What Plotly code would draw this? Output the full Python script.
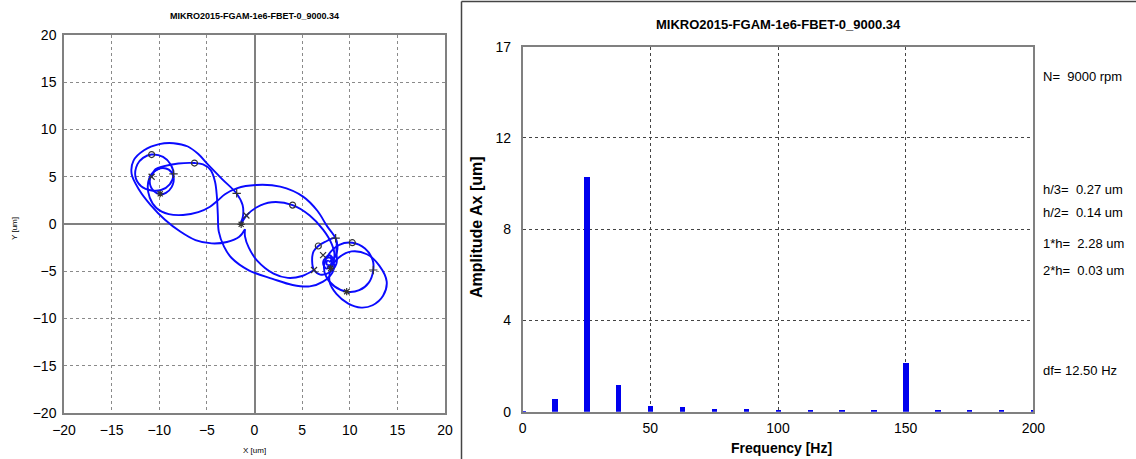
import plotly.graph_objects as go

W, H = 1136, 459

# ---------------- data ----------------
title_text = "MIKRO2015-FGAM-1e6-FBET-0_9000.34"

# orbit segments (x, y in um)
pass_outer = [(-1.0, -0.55), (-1.6, -1.35), (-2.9, -1.9), (-4.5, -2.05), (-6.2, -1.7), (-7.8, -0.8),
              (-9.4, 0.45), (-10.9, 2.0), (-12.1, 3.6), (-12.9, 5.3), (-12.7, 6.7), (-11.6, 7.8),
              (-10.0, 8.45), (-8.5, 8.55), (-7.0, 8.2), (-5.9, 7.4), (-4.9, 6.3), (-3.4, 4.75),
              (-1.9, 3.25), (-1.25, 2.0), (-1.2, 0.9), (-1.45, 0.0), (-0.85, 0.9), (0.2, 1.75),
              (1.8, 2.3), (4.0, 2.0), (5.8, 0.9), (7.2, -0.6), (8.1, -2.1), (8.4, -3.3), (8.1, -4.3),
              (7.6, -4.6)]
pass_e3_bottom = [(-10.8, 5.0), (-10.4, 5.8), (-9.6, 6.1), (-8.0, 6.4), (-6.3, 6.45), (-5.4, 6.3),
                  (-4.6, 5.7), (-4.15, 4.5), (-3.95, 2.9), (-3.85, 1.0), (-3.75, -0.8), (-3.2, -2.4),
                  (-2.4, -3.6), (-0.6, -4.9), (1.9, -5.8), (4.0, -6.45), (5.8, -6.6), (7.2, -6.1),
                  (8.2, -5.1), (8.4, -4.2)]
pass_e3_top = [(-9.9, 5.9), (-10.8, 5.3), (-11.2, 4.1), (-11.0, 2.8), (-10.3, 1.7), (-9.0, 1.05),
               (-7.5, 0.95), (-5.9, 1.25), (-4.67, 1.83), (-3.9, 2.45), (-3.1, 3.15), (-1.87, 3.78),
               (0.2, 4.13), (2.7, 3.95), (5.1, 2.9), (6.6, 1.4), (7.6, -0.2), (8.5, -1.5), (8.7, -2.7),
               (8.3, -3.7), (7.8, -4.0)]
pass_e4_bottom = [(6.25, -4.87), (5.0, -5.5), (3.5, -5.7), (2.0, -5.25), (0.3, -3.9), (-0.6, -2.5),
                  (-1.0, -1.3), (-1.0, -0.55)]
loop_c1 = [(-10.8, 7.35), (-9.6, 7.1), (-8.8, 6.3), (-8.5, 5.2), (-8.9, 4.2), (-9.8, 3.6),
           (-10.8, 3.55), (-11.9, 4.0), (-12.5, 5.0), (-12.3, 6.3), (-11.7, 7.0), (-10.8, 7.35)]
loop_c2 = [(-9.9, 5.9), (-9.0, 5.75), (-8.5, 5.0), (-8.7, 3.9), (-9.3, 3.3), (-9.9, 3.15),
           (-10.6, 3.5), (-11.0, 4.5), (-10.6, 5.5), (-9.9, 5.9)]
loop_r1 = [(10.2, -2.9), (11.8, -3.2), (13.1, -4.4), (13.88, -6.1), (13.5, -7.6), (12.4, -8.6),
           (11.2, -8.85), (9.8, -8.4), (8.6, -7.4), (7.9, -6.2), (8.0, -4.8), (8.8, -3.6), (10.2, -2.9)]
loop_r2 = [(10.27, -1.98), (11.6, -2.6), (12.4, -3.8), (12.47, -4.87), (12.0, -6.2), (11.0, -7.0),
           (9.68, -7.16), (8.4, -6.6), (7.5, -5.5), (7.3, -4.4), (7.8, -3.2), (8.9, -2.2), (10.27, -1.98)]
loop_r3 = [(8.5, -1.5), (7.4, -1.9), (6.7, -2.33), (6.2, -2.9), (6.05, -3.9), (6.25, -4.87),
           (6.9, -5.35), (7.9, -5.1), (8.6, -4.2), (8.6, -3.0), (8.5, -1.5)]
spiral = [(7.4, -3.6), (7.9, -3.3), (8.3, -3.8), (8.1, -4.5), (7.5, -4.7), (7.2, -4.1), (7.5, -3.6),
          (8.0, -3.6), (8.0, -4.3), (7.6, -4.3), (7.6, -3.9), (7.8, -3.9)]

# keyphasor-style markers
mark_o_x = [-10.8, -6.3, 4.0, 6.7, 10.27]
mark_o_y = [7.35, 6.45, 2.0, -2.33, -1.98]
mark_plus_x = [-8.5, -1.87, 8.52, 12.47]
mark_plus_y = [5.3, 3.25, -1.5, -4.87]
mark_x_x = [-10.8, -0.85, 7.2, 6.25]
mark_x_y = [5.0, 0.9, -3.3, -4.87]
mark_star_x = [-9.9, -1.4, 8.0, 9.68]
mark_star_y = [3.2, -0.03, -4.69, -7.16]

# spectrum
freqs = [0, 12.5, 25, 37.5, 50, 62.5, 75, 87.5, 100, 112.5, 125, 137.5, 150, 162.5, 175, 187.5, 200]
amps = [0.04, 0.59, 10.96, 1.26, 0.28, 0.22, 0.15, 0.13, 0.09, 0.08, 0.08, 0.08, 2.28, 0.06, 0.06, 0.06, 0.06]

orbit_ticks = [-20, -15, -10, -5, 0, 5, 10, 15, 20]
freq_ticks = [0, 50, 100, 150, 200]
amp_tickvals = [0, 4.25, 8.5, 12.75, 17]
amp_ticktext = ["0", "4", "8", "12", "17"]

info_texts = ["N=\u00a0 9000 rpm", "h/3=\u00a0 0.27 um", "h/2=\u00a0 0.14 um",
              "1*h=\u00a0 2.28 um", "2*h=\u00a0 0.03 um", "df= 12.50 Hz"]
info_ypix = [76, 189, 212, 243, 270, 370]

# ---------------- figure ----------------
FONT = "Liberation Sans, Arial, sans-serif"
BLUE = "#0a0aff"

def px(x):
    return x / W

def py(y):
    return 1 - y / H

segments = [pass_outer, pass_e3_bottom, pass_e3_top, pass_e4_bottom, loop_c1, loop_c2,
            loop_r1, loop_r2, loop_r3, spiral]
ox, oy = [], []
for seg in segments:
    ox += [p[0] for p in seg] + [None]
    oy += [p[1] for p in seg] + [None]

fig = go.Figure()
fig.add_trace(go.Scatter(x=ox, y=oy, mode="lines", line=dict(color=BLUE, width=1.9, shape="spline", smoothing=1.0),
                         connectgaps=False, xaxis="x", yaxis="y", hoverinfo="skip"))
for mx, my, sym in [(mark_o_x, mark_o_y, "circle-open"), (mark_plus_x, mark_plus_y, "cross-thin-open"),
                    (mark_x_x, mark_x_y, "x-thin-open"), (mark_star_x, mark_star_y, "asterisk-open")]:
    fig.add_trace(go.Scatter(x=mx, y=my, mode="markers",
                             marker=dict(symbol=sym, size=6, color="#333333", line=dict(width=1.2, color="#222222")),
                             xaxis="x", yaxis="y"))

fig.add_trace(go.Bar(x=freqs, y=amps, width=2.1, marker=dict(color="#0000ee", line=dict(width=0)),
                     xaxis="x2", yaxis="y2"))

grid_common = dict(showgrid=True, griddash="dot", gridwidth=1, showline=True, mirror=True,
                   linecolor="#808080", linewidth=1.5, ticks="outside", tickcolor="rgba(0,0,0,0)",
                   automargin=False, fixedrange=True)

fig.update_layout(
    template="none",
    width=W, height=H, margin=dict(l=0, r=0, t=0, b=0, pad=0, autoexpand=False),
    paper_bgcolor="white", plot_bgcolor="white", showlegend=False, bargap=0,
    xaxis=dict(domain=[px(64), px(445)], range=[-20, 20], tickvals=orbit_ticks, gridcolor="#8a8a8a",
               zeroline=True, zerolinecolor="#808080", zerolinewidth=1.5, ticklen=3, anchor="y",
               tickfont=dict(family=FONT, size=14, color="#000"), **grid_common),
    yaxis=dict(domain=[py(413), py(35)], range=[-20, 20], tickvals=orbit_ticks, gridcolor="#8a8a8a",
               zeroline=True, zerolinecolor="#808080", zerolinewidth=1.5, ticklen=3, anchor="x",
               tickfont=dict(family=FONT, size=14, color="#000"), **grid_common),
    xaxis2=dict(domain=[px(522.7), px(1033.3)], range=[0, 200], tickvals=freq_ticks, gridcolor="#444444",
                zeroline=False, ticklen=3, anchor="y2",
                tickfont=dict(family=FONT, size=14, color="#000"), **grid_common),
    yaxis2=dict(domain=[py(411.7), py(46.7)], range=[0, 17], tickvals=amp_tickvals, ticktext=amp_ticktext,
                gridcolor="#444444", zeroline=False, ticklen=7, anchor="x2",
                tickfont=dict(family=FONT, size=14, color="#000"), **grid_common),
)

ann = []
ann.append(dict(text=f"<b>{title_text}</b>", x=px(254.5), y=py(16), font=dict(family=FONT, size=9, color="#000")))
ann.append(dict(text=f"<b>{title_text}</b>", x=px(778.5), y=py(24), font=dict(family=FONT, size=13, color="#000")))
ann.append(dict(text="X [um]", x=px(254.5), y=py(450), font=dict(family=FONT, size=8, color="#000")))
ann.append(dict(text="Y [um]", x=px(14), y=py(228), textangle=-90, font=dict(family=FONT, size=8, color="#000")))
ann.append(dict(text="<b>Frequency [Hz]</b>", x=px(781.7), y=py(448), font=dict(family=FONT, size=14, color="#000")))
ann.append(dict(text="<b>Amplitude Ax [um]</b>", x=px(476), y=py(227), textangle=-90,
                font=dict(family=FONT, size=16, color="#000")))
for t, yp in zip(info_texts, info_ypix):
    ann.append(dict(text=t, x=px(1041), y=py(yp), xanchor="left", font=dict(family=FONT, size=13, color="#000")))
for a in ann:
    a.update(xref="paper", yref="paper", showarrow=False)
    a.setdefault("xanchor", "center")
    a["yanchor"] = "middle"
fig.update_layout(annotations=ann)

fig.update_layout(shapes=[
    dict(type="line", xref="paper", yref="paper", x0=px(461.5), x1=px(461.5), y0=0, y1=py(1.5),
         line=dict(color="#444444", width=1.5)),
    dict(type="line", xref="paper", yref="paper", x0=px(461.5), x1=1, y0=py(1.5), y1=py(1.5),
         line=dict(color="#444444", width=1.5)),
])

fig.write_html("out.html")
